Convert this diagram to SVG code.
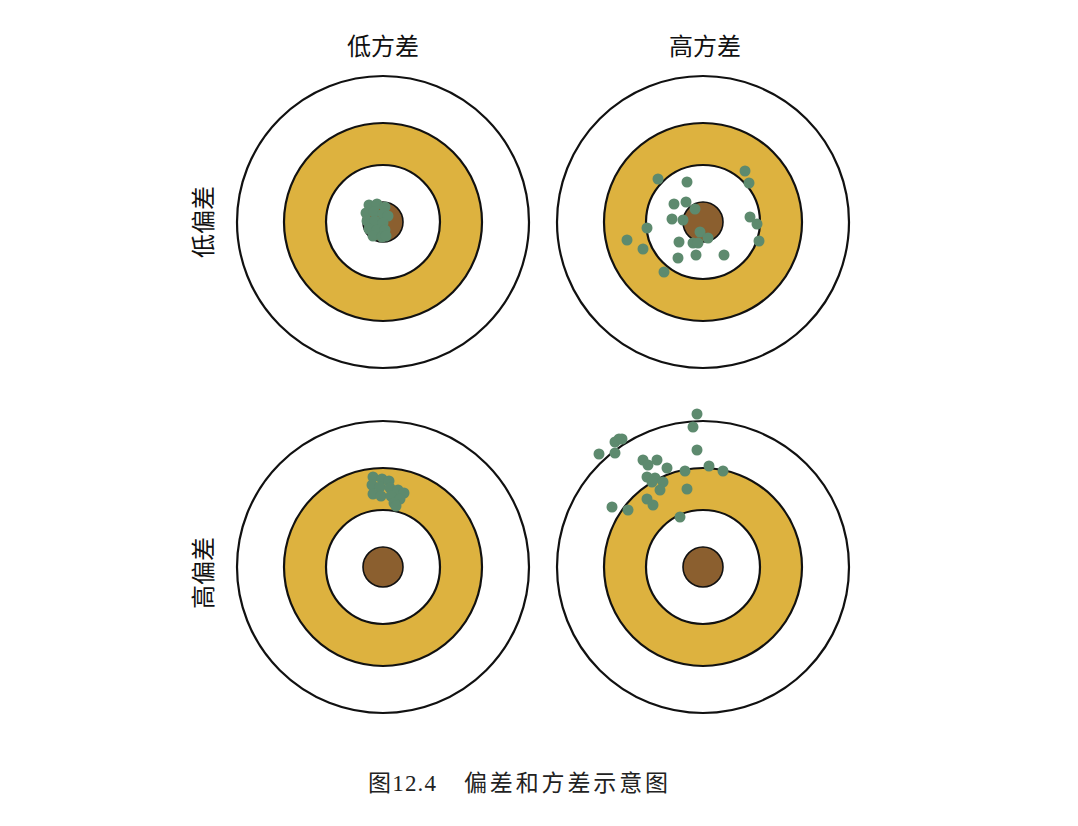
<svg xmlns="http://www.w3.org/2000/svg" width="1078" height="826" viewBox="0 0 1078 826">
<style>
.o{fill:#fff;stroke:#111;stroke-width:2.2}
.g{fill:#ddb23f;stroke:#111;stroke-width:2.2}
.w{fill:#fff;stroke:#111;stroke-width:2.2}
.b{fill:#8b5f2f;stroke:#111;stroke-width:1.6}
.d{fill:#5d8a6e}
.d circle{r:5.5px}
.t{font-family:"Noto Sans CJK SC","Noto Sans CJK JP",sans-serif;font-size:24px;fill:#111;text-anchor:middle}
.c{font-family:"Liberation Serif","Noto Sans CJK SC",serif;font-size:23px;fill:#222}
</style>
<defs>
<g id="target">
<circle class="o" r="146"/>
<circle class="g" r="99"/>
<circle class="w" r="57"/>
<circle class="b" r="20"/>
</g>
</defs>
<rect width="1078" height="826" fill="#fff"/>
<g id="labels">
<text class="t" x="383" y="55">低方差</text>
<text class="t" x="705" y="55">高方差</text>
<text class="t" transform="translate(212,222) rotate(-90)">低偏差</text>
<text class="t" transform="translate(212,573) rotate(-90)">高偏差</text>
</g>
<g id="target-low-bias-low-var">
<use href="#target" x="383" y="222"/>
<g class="d">
<circle cx="369" cy="205" r="6"/><circle cx="377" cy="204" r="6"/><circle cx="385" cy="207" r="5"/>
<circle cx="366" cy="213" r="6"/><circle cx="374" cy="212" r="6"/><circle cx="383" cy="214" r="6"/><circle cx="388" cy="216" r="5"/>
<circle cx="367" cy="221" r="6"/><circle cx="375" cy="221" r="6"/><circle cx="383" cy="223" r="6"/>
<circle cx="369" cy="229" r="6"/><circle cx="377" cy="230" r="6"/><circle cx="385" cy="230" r="5"/>
<circle cx="373" cy="236" r="5"/><circle cx="382" cy="237" r="5"/><circle cx="386" cy="236" r="5"/>
</g>
</g>
<g id="target-low-bias-high-var">
<use href="#target" x="703" y="222"/>
<g class="d">
<circle cx="658" cy="179" r="5"/><circle cx="687" cy="182" r="5"/><circle cx="745" cy="171" r="5"/><circle cx="749" cy="183" r="5"/>
<circle cx="674" cy="204" r="5"/><circle cx="686" cy="202" r="5"/><circle cx="695" cy="209" r="5"/><circle cx="672" cy="219" r="5"/>
<circle cx="683" cy="220" r="5"/><circle cx="647" cy="228" r="5"/><circle cx="750" cy="217" r="5"/><circle cx="757" cy="224" r="5"/>
<circle cx="627" cy="240" r="5"/><circle cx="643" cy="249" r="5"/><circle cx="700" cy="232" r="5"/><circle cx="708" cy="238" r="5"/>
<circle cx="679" cy="242" r="5"/><circle cx="693" cy="243" r="5"/><circle cx="698" cy="243" r="5"/><circle cx="759" cy="241" r="5"/>
<circle cx="678" cy="258" r="5"/><circle cx="696" cy="255" r="5"/><circle cx="724" cy="255" r="5"/><circle cx="664" cy="272" r="5"/>
</g>
</g>
<g id="target-high-bias-low-var">
<use href="#target" x="383" y="567"/>
<g class="d">
<circle cx="373" cy="477" r="6"/><circle cx="382" cy="479" r="5"/><circle cx="372" cy="485" r="6"/><circle cx="380" cy="487" r="5"/>
<circle cx="373" cy="494" r="6"/><circle cx="381" cy="496" r="5"/><circle cx="389" cy="481" r="5"/><circle cx="390" cy="488" r="6"/>
<circle cx="398" cy="490" r="5"/><circle cx="404" cy="493" r="5"/><circle cx="391" cy="496" r="6"/><circle cx="400" cy="499" r="5"/>
<circle cx="394" cy="503" r="5"/><circle cx="396" cy="506" r="5"/>
</g>
</g>
<g id="target-high-bias-high-var">
<use href="#target" x="703" y="567"/>
<g class="d">
<circle cx="697" cy="414" r="5"/><circle cx="693" cy="427" r="5"/><circle cx="619" cy="439" r="5"/><circle cx="615" cy="442" r="5"/>
<circle cx="622" cy="439" r="5"/><circle cx="599" cy="454" r="5"/><circle cx="615" cy="453" r="5"/><circle cx="697" cy="450" r="5"/>
<circle cx="643" cy="460" r="5"/><circle cx="657" cy="460" r="5"/><circle cx="648" cy="465" r="5"/><circle cx="667" cy="468" r="5"/>
<circle cx="685" cy="471" r="5"/><circle cx="709" cy="466" r="5"/><circle cx="723" cy="471" r="5"/><circle cx="647" cy="477" r="5"/>
<circle cx="655" cy="478" r="5"/><circle cx="652" cy="482" r="5"/><circle cx="663" cy="482" r="5"/><circle cx="660" cy="490" r="5"/>
<circle cx="687" cy="489" r="5"/><circle cx="647" cy="499" r="5"/><circle cx="653" cy="505" r="5"/><circle cx="612" cy="507" r="5"/>
<circle cx="628" cy="510" r="5"/><circle cx="680" cy="517" r="5"/>
</g>
</g>
<g id="caption">
<text class="c" x="368" y="791" textLength="68">图12.4</text>
<text class="c" x="464" y="791" textLength="204">偏差和方差示意图</text>
</g>
</svg>
